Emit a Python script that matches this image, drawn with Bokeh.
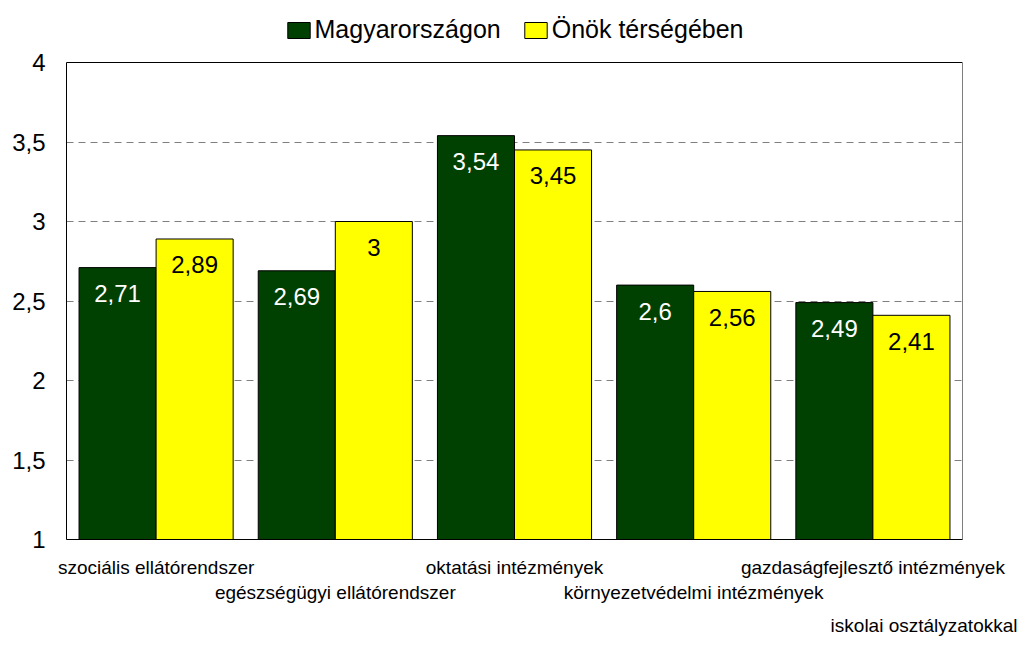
from bokeh.plotting import figure
from bokeh.models import (Range1d, FixedTicker, LinearAxis, Legend, LegendItem,
                          ColumnDataSource, CustomJSTickFormatter, Title)
from bokeh.transform import dodge
from bokeh.core.properties import value
from bokeh.embed import file_html
from bokeh.resources import INLINE

# ---- data ----
categories = ["szociális ellátórendszer", "egészségügyi ellátórendszer",
              "oktatási intézmények", "környezetvédelmi intézmények",
              "gazdaságfejlesztő intézmények"]
series_names = ["Magyarországon", "Önök térségében"]
hu_values = [2.71, 2.69, 3.54, 2.6, 2.49]
local_values = [2.89, 3, 3.45, 2.56, 2.41]
y_ticks = [1, 1.5, 2, 2.5, 3, 3.5, 4]
note = "iskolai osztályzatokkal"

FONT = "Liberation Sans"
GREEN = "#004000"
YELLOW = "#FFFF00"

def fmt(v):
    return f"{v:g}".replace(".", ",")

# layout (pixels)
W, H = 1019, 642
FRAME_TOP = 8          # top of drawing area (room for legend)
AX_TOP = 62            # where the value axis ends (y = 4)
AX_BOTTOM = 539
ymin, ymax_axis = y_ticks[0], y_ticks[-1]
ymax = ymax_axis + (ymax_axis - ymin) * (AX_TOP - FRAME_TOP) / (AX_BOTTOM - AX_TOP)

xs = [i + 0.5 for i in range(len(categories))]
src = ColumnDataSource(dict(
    x=xs, hu=hu_values, loc=local_values,
    hu_lbl=[fmt(v) for v in hu_values], loc_lbl=[fmt(v) for v in local_values],
))

p = figure(width=W, height=H, x_range=Range1d(0, len(categories)),
           y_range=Range1d(ymin, ymax),
           output_backend="svg", toolbar_location=None,
           min_border_left=66, min_border_right=57, min_border_top=FRAME_TOP,
           min_border_bottom=H - AX_BOTTOM)
p.background_fill_color = "white"
p.border_fill_color = "white"
p.outline_line_color = None

BW = 0.43
OFF = 0.215
r1 = p.vbar(x=dodge("x", -OFF), top="hu", bottom=ymin, width=BW, source=src,
            fill_color=GREEN, line_color="black", line_width=1)
r2 = p.vbar(x=dodge("x", OFF), top="loc", bottom=ymin, width=BW, source=src,
            fill_color=YELLOW, line_color="black", line_width=1)

p.text(x=dodge("x", -OFF), y="hu", text="hu_lbl", source=src, text_align="center",
       text_baseline="middle", y_offset=26, text_color="white",
       text_font=value(FONT), text_font_size="24px")
p.text(x=dodge("x", OFF), y="loc", text="loc_lbl", source=src, text_align="center",
       text_baseline="middle", y_offset=26, text_color="black",
       text_font=value(FONT), text_font_size="24px")

# plot-area box (value axis 1..4)
p.quad(left=0, right=len(categories), bottom=ymin, top=ymax_axis,
       fill_color=None, line_color="black", line_width=1)

# grid
p.xgrid.visible = False
p.ygrid.ticker = FixedTicker(ticks=[t for t in y_ticks if t not in (ymin, ymax_axis)])
p.ygrid.grid_line_color = "#808080"
p.ygrid.grid_line_dash = "7 5"
p.ygrid.grid_line_width = 1

# y axis
ya = p.yaxis[0]
ya.ticker = FixedTicker(ticks=y_ticks)
ya.bounds = (ymin, ymax_axis)
ya.formatter = CustomJSTickFormatter(code="return tick.toString().replace('.', ',');")
ya.major_tick_line_color = None
ya.minor_tick_line_color = None
ya.major_tick_out = 0
ya.major_tick_in = 0
ya.major_label_standoff = 21
ya.axis_line_color = "black"
ya.major_label_text_font = FONT
ya.major_label_text_font_size = "24px"
ya.major_label_text_color = "black"

# x axes (staggered labels)
xa1 = p.xaxis[0]
xa1.ticker = FixedTicker(ticks=xs[0::2])
xa1.major_label_overrides = {xs[i]: categories[i] for i in range(0, len(xs), 2)}
xa2 = LinearAxis(ticker=FixedTicker(ticks=xs[1::2]))
xa2.major_label_overrides = {xs[i]: categories[i] for i in range(1, len(xs), 2)}
p.add_layout(xa2, "below")
for ax, so in ((xa1, 17), (xa2, 1)):
    ax.major_tick_line_color = None
    ax.minor_tick_line_color = None
    ax.major_tick_out = 0
    ax.major_tick_in = 0
    ax.axis_line_color = None
    ax.major_label_standoff = so
    ax.major_label_text_font = FONT
    ax.major_label_text_font_size = "19px"
    ax.major_label_text_color = "black"
xa1.axis_line_color = "black"

note_title = Title(text=note, align="right", text_font=FONT, text_font_size="19px",
                   text_font_style="normal", text_color="black", offset=-55, standoff=14)
p.add_layout(note_title, "below")

legend = Legend(items=[LegendItem(label=series_names[0], renderers=[r1]),
                       LegendItem(label=series_names[1], renderers=[r2])],
                orientation="horizontal", location="top_center",
                glyph_width=28, glyph_height=20, label_standoff=2, spacing=21,
                padding=2, margin=7, border_line_color=None,
                background_fill_alpha=0,
                label_text_font=FONT, label_text_font_size="25px",
                label_text_color="black")
p.add_layout(legend, "center")

open("out.html", "w").write(file_html(p, INLINE))
